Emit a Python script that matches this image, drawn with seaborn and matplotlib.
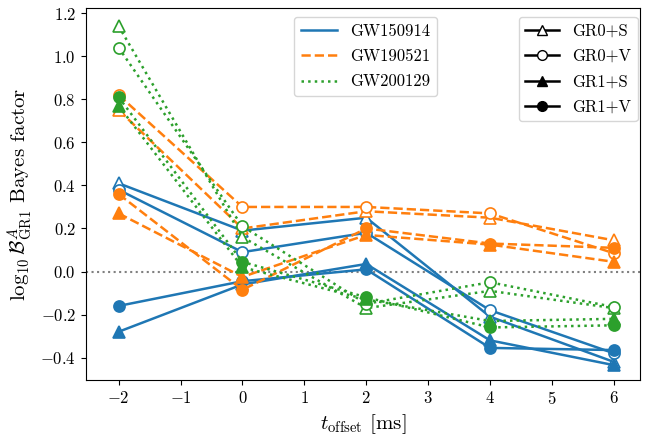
import matplotlib
matplotlib.use("Agg")
import matplotlib.pyplot as plt
from matplotlib.lines import Line2D
import seaborn as sns
import pandas as pd

# time offsets [ms]
t_offset = [-2, 0, 2, 4, 6]

events = ["GW150914", "GW190521", "GW200129"]
models = ["GR0+S", "GR0+V", "GR1+S", "GR1+V"]

# log10 Bayes factors
gw150914 = {
    "GR0+S": [0.41, 0.19, 0.25, -0.21, -0.42],
    "GR0+V": [0.38, 0.09, 0.18, -0.18, -0.38],
    "GR1+S": [-0.28, -0.06, 0.035, -0.32, -0.435],
    "GR1+V": [-0.16, -0.045, 0.01, -0.355, -0.365],
}
gw190521 = {
    "GR0+S": [0.75, 0.20, 0.28, 0.25, 0.145],
    "GR0+V": [0.82, 0.30, 0.30, 0.27, 0.085],
    "GR1+S": [0.27, -0.025, 0.17, 0.125, 0.045],
    "GR1+V": [0.36, -0.085, 0.20, 0.13, 0.11],
}
gw200129 = {
    "GR0+S": [1.14, 0.16, -0.17, -0.09, -0.17],
    "GR0+V": [1.04, 0.21, -0.15, -0.05, -0.165],
    "GR1+S": [0.77, 0.02, -0.13, -0.23, -0.22],
    "GR1+V": [0.81, 0.045, -0.12, -0.26, -0.25],
}

rows = []
for ev, vals in zip(events, [gw150914, gw190521, gw200129]):
    for m in models:
        for t, v in zip(t_offset, vals[m]):
            rows.append({"event": ev, "model": m, "t": t, "logB": v})
df = pd.DataFrame(rows)

colors = {"GW150914": "#1f77b4", "GW190521": "#ff7f0e", "GW200129": "#2ca02c"}
linestyles = {"GW150914": "-", "GW190521": "--", "GW200129": ":"}
markers = {"GR0+S": "^", "GR0+V": "o", "GR1+S": "^", "GR1+V": "o"}
filled = {"GR0+S": False, "GR0+V": False, "GR1+S": True, "GR1+V": True}

plt.rcParams["font.family"] = "serif"
plt.rcParams["font.serif"] = ["cmr10"]
plt.rcParams["mathtext.fontset"] = "cm"
plt.rcParams["axes.formatter.use_mathtext"] = True
plt.rcParams["font.size"] = 12

fig, ax = plt.subplots(figsize=(6.45, 4.38), dpi=100)
fig.subplots_adjust(left=0.133, right=0.992, bottom=0.132, top=0.982)

ax.axhline(0, color="gray", ls=":", lw=1.5, zorder=1)

for ev in events:
    for m in models:
        sub = df[(df.event == ev) & (df.model == m)]
        c = colors[ev]
        sns.lineplot(data=sub, x="t", y="logB", ax=ax, color=c,
                     linestyle=linestyles[ev], lw=1.8, marker=markers[m],
                     markersize=8, markeredgewidth=1.2,
                     markerfacecolor=c if filled[m] else "white",
                     markeredgecolor=c, legend=False)

ax.set_xlim(-2.53, 6.42)
ax.set_ylim(-0.505, 1.225)
ax.set_xticks(range(-2, 7))
ax.set_yticks([-0.4, -0.2, 0.0, 0.2, 0.4, 0.6, 0.8, 1.0, 1.2])
ax.set_xlabel(r"$t_{\rm offset}$ [ms]", fontsize=15)
ax.set_ylabel(r"$\log_{10}\mathcal{B}^{A}_{\rm GR1}$ Bayes factor", fontsize=15)

ev_handles = [Line2D([], [], color=colors[e], ls=linestyles[e], lw=1.8) for e in events]
leg1 = ax.legend(ev_handles, events, loc="upper center", bbox_to_anchor=(0.505, 0.976),
                 borderaxespad=0, fontsize=12, handlelength=2.2, labelspacing=0.6)
ax.add_artist(leg1)

m_handles = [Line2D([], [], color="k", lw=1.8, marker=markers[m], markersize=7,
                    markerfacecolor="k" if filled[m] else "white", markeredgecolor="k")
             for m in models]
ax.legend(m_handles, models, loc="upper right", bbox_to_anchor=(0.996, 0.976),
          borderaxespad=0, fontsize=12, handlelength=2.0, labelspacing=0.6)

plt.savefig("out.png", dpi=100)
plt.close()
